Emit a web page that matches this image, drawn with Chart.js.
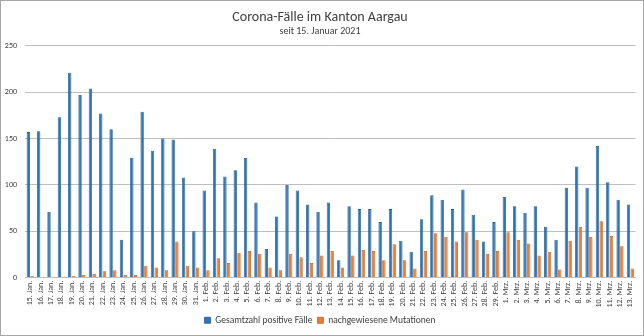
<!DOCTYPE html>
<html><head><meta charset="utf-8">
<script src="https://cdn.jsdelivr.net/npm/chart.js@4/dist/chart.umd.min.js"></script>
<style>
html,body{margin:0;padding:0;background:#fff;}
#wrap{width:644px;height:336px;box-sizing:border-box;border:1px solid #a6a6a6;position:relative;}
canvas{display:block;}
</style></head><body>
<div id="wrap"><canvas id="c" width="642" height="334"></canvas></div>
<script>
const categories = [
 "15. Jan.","16. Jan.","17. Jan.","18. Jan.","19. Jan.","20. Jan.","21. Jan.","22. Jan.","23. Jan.","24. Jan.","25. Jan.","26. Jan.","27. Jan.","28. Jan.","29. Jan.","30. Jan.","31. Jan.",
 "1. Feb.","2. Feb.","3. Feb.","4. Feb.","5. Feb.","6. Feb.","7. Feb.","8. Feb.","9. Feb.","10. Feb.","11. Feb.","12. Feb.","13. Feb.","14. Feb.","15. Feb.","16. Feb.","17. Feb.","18. Feb.","19. Feb.","20. Feb.","21. Feb.","22. Feb.","23. Feb.","24. Feb.","25. Feb.","26. Feb.","27. Feb.","28. Feb.","29. Feb.",
 "1. Mrz.","2. Mrz.","3. Mrz.","4. Mrz.","5. Mrz.","6. Mrz.","7. Mrz.","8. Mrz.","9. Mrz.","10. Mrz.","11. Mrz.","12. Mrz.","13. Mrz."
];
const totalCases = [
 157,158,71,173,221,197,204,177,160,41,129,179,137,150,149,108,50,
 94,139,109,116,129,81,31,66,100,94,79,71,81,19,77,74,74,60,74,40,28,63,89,84,74,95,68,39,60,
 87,77,70,77,55,41,97,120,97,142,103,84,79
];
const mutations = [
 2,1,0,1,2,3,4,7,8,3,3,13,11,8,39,13,11,
 8,21,16,27,29,26,11,8,26,22,16,24,29,11,24,30,29,19,36,19,10,29,48,44,39,49,41,26,29,
 49,41,37,24,28,9,40,55,44,61,45,34,10
];
const yTicks = [0,50,100,150,200,250];
const seriesNames = ["Gesamtzahl positive Fälle","nachgewiesene Mutationen"];
const titleText = "Corona-Fälle im Kanton Aargau";
const subtitleText = "seit 15. Januar 2021";

const FONT = 'Carlito, "Liberation Sans Narrow", Lato, "Open Sans", sans-serif';

new Chart(document.getElementById('c'), {
  type: 'bar',
  data: {
    labels: categories,
    datasets: [
      {label: seriesNames[0], data: totalCases, backgroundColor: '#2E75B6', borderColor: '#1F5B96', borderWidth: 0.8, categoryPercentage: 0.72, barPercentage: 0.9},
      {label: seriesNames[1], data: mutations, backgroundColor: '#ED7D31', borderColor: '#C25E1C', borderWidth: 0.8, categoryPercentage: 0.72, barPercentage: 0.9}
    ]
  },
  options: {
    responsive: false,
    animation: false,
    layout: {padding: {left: 2, right: 6, top: 4, bottom: 0}},
    plugins: {
      title: {display: true, text: titleText, color: '#404040', font: {family: FONT, size: 14, weight: 'normal'}, padding: {top: 4, bottom: 0}},
      subtitle: {display: true, text: subtitleText, color: '#404040', font: {family: FONT, size: 10, weight: 'normal'}, padding: {top: 0, bottom: 8}},
      legend: {position: 'bottom', labels: {boxWidth: 6, boxHeight: 6, color: '#404040', font: {family: FONT, size: 9.5}, padding: 5}},
      tooltip: {enabled: false}
    },
    scales: {
      x: {
        grid: {display: false, drawTicks: false},
        border: {display: true, color: '#bfbfbf'},
        ticks: {autoSkip: false, maxRotation: 90, minRotation: 90, color: '#404040', font: {family: FONT, size: 8}, padding: 3}
      },
      y: {
        min: 0, max: 250,
        afterBuildTicks: (s) => { s.ticks = yTicks.map(v => ({value: v})); },
        afterFit: (s) => { s.width = 22; },
        grid: {color: '#bfbfbf', drawTicks: false},
        border: {display: false},
        ticks: {color: '#404040', font: {family: FONT, size: 8}, padding: 8}
      }
    }
  }
});
</script>
</body></html>
